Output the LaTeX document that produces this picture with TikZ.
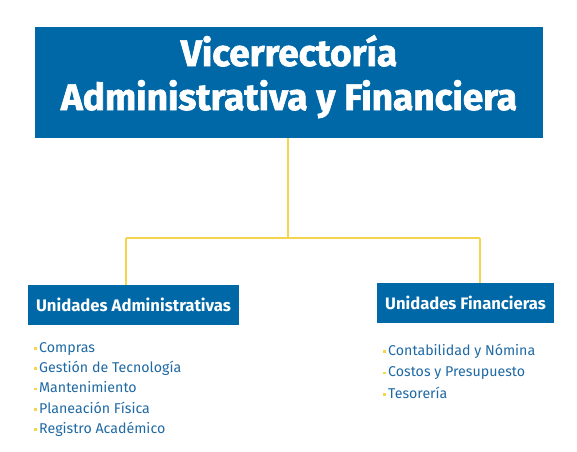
\documentclass[tikz,border=0pt]{standalone}
\usepackage{fontspec}
\setmainfont{Fira Sans}
\newfontfamily\heavy{Fira Sans}[FakeBold=1.8]
\definecolor{uniblue}{HTML}{0068A6}
\definecolor{txtblue}{HTML}{1F69A3}
\definecolor{uniyellow}{HTML}{F3D54E}
\tikzset{
  x=1pt,y=1pt,
  headbox/.style={fill=uniblue,text=white,inner sep=0pt,font=\bfseries},
  link/.style={draw=uniyellow,line width=1.3pt},
  item/.style={anchor=base west,inner sep=0pt,text=txtblue,font=\fontsize{14.2}{16}\selectfont},
}
\newcommand{\yb}{\textcolor{uniyellow}{\raisebox{0.32ex}{\rule{2.4pt}{2.4pt}}}\hspace{2.6pt}}
\begin{document}
\begin{tikzpicture}
\useasboundingbox (0,0) rectangle (577,-451);
\node[headbox,minimum width=508,minimum height=111,align=center,text height=65pt,text depth=10pt,font=\heavy\bfseries\fontsize{37}{44}\selectfont] (top) at (289,-82.5) {Vicerrectoría\\Administrativa y Financiera};
\node[headbox,minimum width=211,minimum height=40,font=\bfseries\fontsize{16.7}{18}\selectfont] (left) at (133.5,-305) {Unidades Administrativas};
\node[headbox,minimum width=177,minimum height=40,font=\bfseries\fontsize{16.6}{18}\selectfont] (right) at (465.5,-303) {Unidades Financieras};
\coordinate (j) at (288,-238);
\coordinate (jl) at (126,-238);
\coordinate (jr) at (480,-238);
\draw[link] (top.south -| j) -- (j);
\draw[link] (jl) -- (jr);
\draw[link] (jl) -- (left.north -| jl);
\draw[link] (jr) -- (right.north -| jr);
\node[item] (a1) at (34,-352) {\yb Compras};
\node[item] (a2) at (34,-372) {\yb Gestión de Tecnología};
\node[item] (a3) at (34,-392.5) {\yb Mantenimiento};
\node[item] (a4) at (34,-413) {\yb Planeación Física};
\node[item] (a5) at (34,-433) {\yb Registro Académico};
\node[item] (b1) at (383,-355) {\yb Contabilidad y Nómina};
\node[item] (b2) at (383,-376.5) {\yb Costos y Presupuesto};
\node[item] (b3) at (383,-398) {\yb Tesorería};
\end{tikzpicture}
\end{document}
